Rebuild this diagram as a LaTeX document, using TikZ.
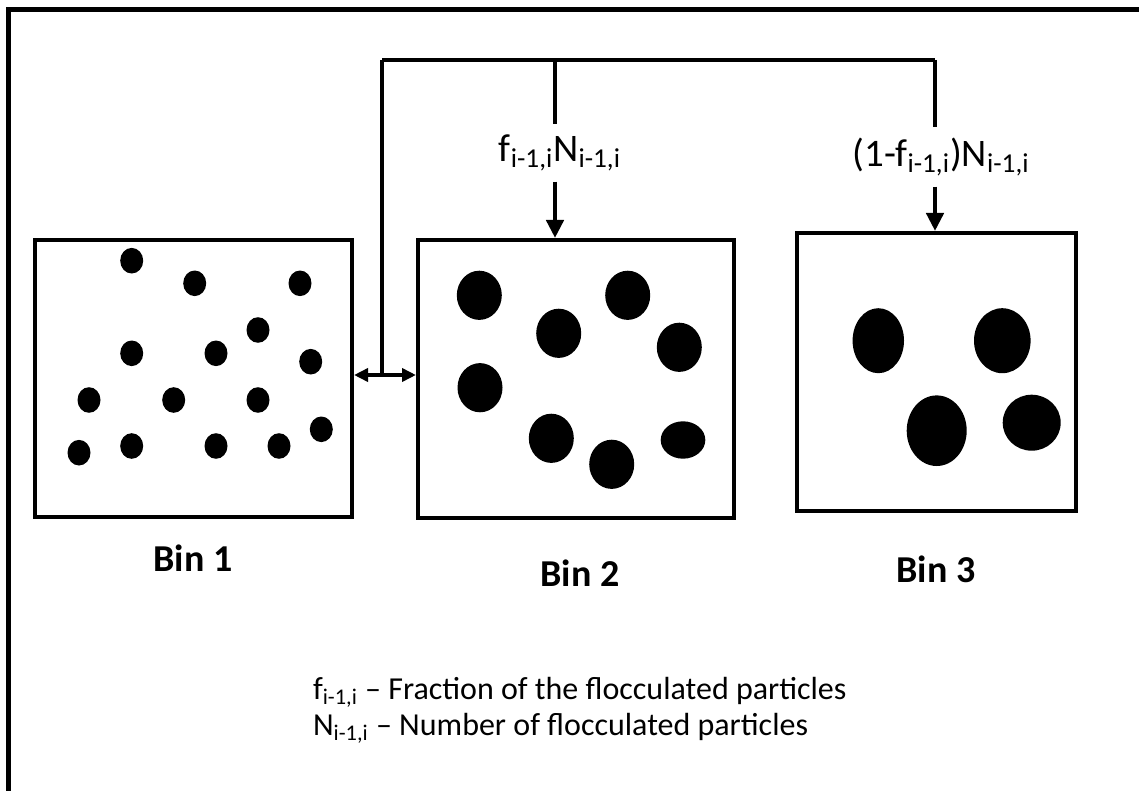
\documentclass[tikz,border=0pt]{standalone}
\usepackage{fontspec}
\setmainfont{Carlito}
\usetikzlibrary{arrows.meta}
\tikzset{
  binbox/.style={draw, line width=2pt, inner sep=0pt},
  binlabel/.style={font=\fontsize{19}{22}\selectfont\bfseries},
  flowlabel/.style={font=\fontsize{19.5}{22}\selectfont, inner sep=5pt},
  flow/.style={line width=2.2pt},
  particle/.style={fill=black}
}
\begin{document}
\begin{tikzpicture}[x=0.5pt,y=-0.5pt, >={Triangle[length=9pt,width=8.5pt]}]
\useasboundingbox (0,0) rectangle (1139,791);
% outer frame (only left and top edges show)
\draw[line width=2.6pt] (8.5,795) -- (8.5,9.5) -- (1145,9.5);
% bins
\node[binbox, minimum width=158.5pt, minimum height=138.5pt] (bin1) at (193.5,378.5) {};
\node[binbox, minimum width=158pt, minimum height=139pt] (bin2) at (576,379) {};
\node[binbox, minimum width=139.5pt, minimum height=139pt] (bin3) at (936.5,372) {};
\node[binlabel] (lab1) at (193,558) {Bin 1};
\node[binlabel] (lab2) at (580,573) {Bin 2};
\node[binlabel] (lab3) at (936,569) {Bin 3};
% particles in bin 1
\foreach \px/\py in {131.7/260.7, 194.7/283.3, 300/283.3, 258/330, 131.7/353.3,
    216/353.3, 310.7/361.7, 89/400, 173.7/400, 258/400, 321.3/429.3,
    79/452.7, 131.7/446, 216/446, 279/446}
  \fill[particle] (\px,\py) ellipse[x radius=11.5, y radius=12.8];
% particles in bin 2
\foreach \px/\py in {479.3/295.3, 558.7/333.3, 627.7/295.3, 679.3/347.3,
    480/387.7, 551.3/438.3, 611.7/464.3}
  \fill[particle] (\px,\py) ellipse[x radius=22.5, y radius=24.6];
\fill[particle] (683,440) ellipse[x radius=22.3, y radius=18.7];
% particles in bin 3
\fill[particle] (878.3,340.7) ellipse[x radius=25.7, y radius=32.5];
\fill[particle] (1002.3,340.7) ellipse[x radius=28.3, y radius=32.5];
\fill[particle] (936.7,430.7) ellipse[x radius=30, y radius=35.3];
\fill[particle] (1031.7,422.7) ellipse[x radius=29, y radius=28];
% split of the flocculated particles
\coordinate (jL) at (382,60);
\coordinate (jM) at (555,60);
\coordinate (jR) at (935,60);
\coordinate (jA) at (382,375);
\node[flowlabel] (fN) at (560,153) {f\textsubscript{i-1,i}N\textsubscript{i-1,i}};
\node[flowlabel] (gN) at (941,157) {(1-f\textsubscript{i-1,i})N\textsubscript{i-1,i}};
\draw[flow] (jL) -- (jR);
\draw[flow] (jM) -- (jM |- fN.north);
\draw[flow] (jR) -- (jR |- gN.north);
\draw[flow, ->] (jM |- fN.south) -- (jM |- bin2.north);
\draw[flow, ->] (jR |- gN.south) -- (jR |- bin3.north);
\draw[flow] (jL) -- (jA);
\draw[line width=2pt, {Triangle[length=7pt,width=6.5pt]}-{Triangle[length=7pt,width=6.5pt]}] (bin1.east |- jA) -- (bin2.west |- jA);
% legend
\node[font=\fontsize{16}{18}\selectfont, align=left, anchor=west] (legend) at (306,710)
  {f\textsubscript{i-1,i} -- Fraction of the flocculated particles\\
   N\textsubscript{i-1,i} -- Number of flocculated particles};
\end{tikzpicture}
\end{document}
